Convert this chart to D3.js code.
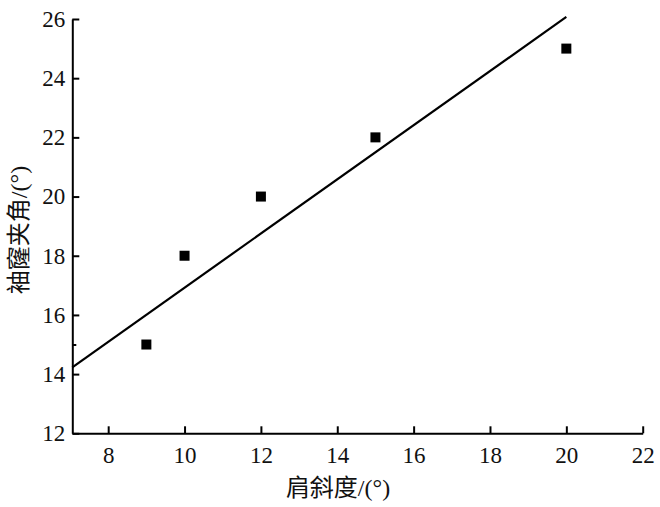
<!DOCTYPE html>
<html><head><meta charset="utf-8">
<script src="https://cdn.jsdelivr.net/npm/d3@7"></script>
<style>body{margin:0;background:#fff}svg{display:block}</style>
</head><body>
<svg id="c" width="660" height="507" font-family="Liberation Serif, serif"></svg>
<script>
const xValues = [9, 10, 12, 15, 20];
const yValues = [15, 18, 20, 22, 25];
const trendX = [7.06, 20];
const trendY = [14.23, 26.07];
const xTicks = [8, 10, 12, 14, 16, 18, 20, 22];
const yTicks = [12, 14, 16, 18, 20, 22, 24, 26];
const yMinorTicks = [15];
const xTitle = "肩斜度/(°)";
const yTitle = "袖窿夹角/(°)";

const FONT = "Liberation Serif";
const svg = d3.select("#c");
const x = d3.scaleLinear().domain([7.06, 22]).range([72.3, 642.7]);
const y = d3.scaleLinear().domain([12, 26]).range([433.3, 19]);

const gx = svg.append("g").attr("transform", `translate(0,${y(12)})`)
  .call(d3.axisBottom(x).tickValues(xTicks).tickSizeInner(-7).tickSizeOuter(0).tickPadding(13).tickFormat(d3.format("d")));
const gy = svg.append("g").attr("transform", `translate(${x(7.06)},0)`)
  .call(d3.axisLeft(y).tickValues(yTicks).tickSizeInner(-7).tickSizeOuter(0).tickPadding(7).tickFormat(d3.format("d")));
svg.append("g").attr("transform", `translate(${x(7.06)},0)`)
  .call(d3.axisLeft(y).tickValues(yMinorTicks).tickSizeInner(-4).tickSizeOuter(0).tickFormat(""))
  .select(".domain").remove();

[gx, gy].forEach(g => {
  g.attr("font-family", FONT).attr("font-size", 23);
  g.select(".domain").attr("stroke", "#000").attr("stroke-width", 2);
  g.selectAll(".tick text").attr("fill", "#111").attr("font-family", FONT).attr("font-size", 23);
});
svg.selectAll(".tick line").attr("stroke", "#000").attr("stroke-width", 2);

svg.append("path")
  .datum(trendX.map((d, i) => [d, trendY[i]]))
  .attr("d", d3.line().x(d => x(d[0])).y(d => y(d[1])))
  .attr("fill", "none").attr("stroke", "#000").attr("stroke-width", 2.2);

const s = 10;
svg.append("g").selectAll("rect").data(xValues.map((d, i) => [d, yValues[i]])).join("rect")
  .attr("x", d => x(d[0]) - s / 2).attr("y", d => y(d[1]) - s / 2)
  .attr("width", s).attr("height", s).attr("fill", "#000");

svg.append("text").attr("x", 338).attr("y", 496).attr("text-anchor", "middle")
  .attr("font-family", "Liberation Serif, Noto Sans CJK SC").attr("font-size", 24).attr("fill", "#111").text(xTitle);
svg.append("text").attr("transform", "translate(27,230) rotate(-90)").attr("text-anchor", "middle")
  .attr("font-family", "Liberation Serif, Noto Sans CJK SC").attr("font-size", 24).attr("fill", "#111").text(yTitle);
</script>
</body></html>
